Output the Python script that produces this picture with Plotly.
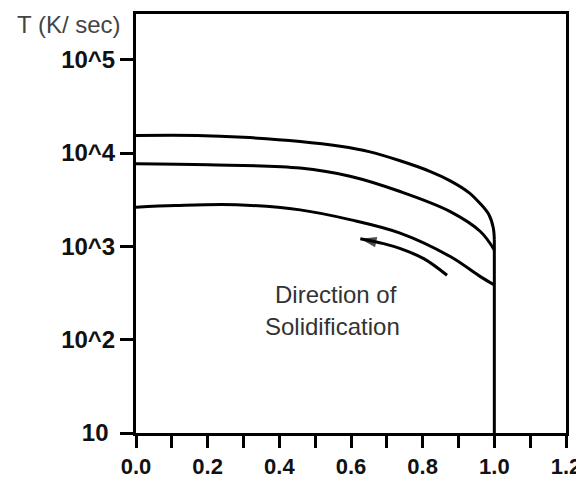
import plotly.graph_objects as go

# Data
top_x = [0.0, 0.17, 0.30, 0.458, 0.57, 0.65, 0.737, 0.82, 0.877, 0.93, 0.961, 0.985, 0.997, 1.0]
top_y = [15420, 15420, 14760, 13300, 11800, 10350, 8260, 6370, 5040, 3750, 2860, 2180, 1580, 1175]

mid_x = [0.0, 0.2, 0.458, 0.6, 0.737, 0.877, 0.961, 1.0]
mid_y = [7670, 7490, 6900, 5610, 3870, 2360, 1443, 916]

bot_x = [0.0, 0.11, 0.28, 0.458, 0.6, 0.737, 0.877, 0.961, 1.0]
bot_y = [2630, 2740, 2790, 2460, 1923, 1387, 778, 474, 386]

wall_x = [1.0, 1.0]
wall_y = [1175, 10]

arrow_x = [0.868, 0.803, 0.738, 0.691, 0.626]
arrow_y = [490, 738, 944, 1069, 1208]

x_ticks = [0.0, 0.1, 0.2, 0.3, 0.4, 0.5, 0.6, 0.7, 0.8, 0.9, 1.0, 1.1, 1.2]
x_ticktext = ["0.0", "", "0.2", "", "0.4", "", "0.6", "", "0.8", "", "1.0", "", "1.2"]
y_ticks = [10, 100, 1000, 10000, 100000]
y_ticktext = ["10\u00a0", "10^2", "10^3", "10^4", "10^5"]

FONT = "Liberation Sans, Arial, sans-serif"
LW = 3

fig = go.Figure()
for xs, ys in [(top_x, top_y), (mid_x, mid_y), (bot_x, bot_y)]:
    fig.add_trace(go.Scatter(x=xs, y=ys, mode="lines",
                             line=dict(color="black", width=LW, shape="spline", smoothing=1.0),
                             hoverinfo="skip", showlegend=False))
fig.add_trace(go.Scatter(x=wall_x, y=wall_y, mode="lines",
                         line=dict(color="black", width=LW),
                         hoverinfo="skip", showlegend=False))
fig.add_trace(go.Scatter(x=arrow_x, y=arrow_y, mode="lines+markers",
                         line=dict(color="black", width=LW, shape="spline"),
                         marker=dict(symbol=["circle"] * (len(arrow_x) - 1) + ["arrow"],
                                     size=[0] * (len(arrow_x) - 1) + [17],
                                     angleref="previous", color="black",
                                     line=dict(width=0)),
                         hoverinfo="skip", showlegend=False))

fig.add_annotation(x=0.559, y=2.48, xref="x", yref="y", text="Direction of",
                   showarrow=False, font=dict(family=FONT, size=24, color="#333"))
fig.add_annotation(x=0.548, y=2.137, xref="x", yref="y", text="Solidification",
                   showarrow=False, font=dict(family=FONT, size=24, color="#333"))
fig.add_annotation(x=-0.030, y=0.976, xref="paper", yref="paper", text="T (K/ sec)",
                   xanchor="right", yanchor="middle", showarrow=False,
                   font=dict(family=FONT, size=24, color="#444"))

fig.update_xaxes(range=[0, 1.2], tickvals=x_ticks, ticktext=x_ticktext,
                 ticks="outside", ticklen=12, tickwidth=LW, tickcolor="black",
                 showline=True, linewidth=LW, linecolor="black", mirror=True,
                 showgrid=False, zeroline=False, ticklabelstandoff=0, automargin=False,
                 tickfont=dict(family=FONT, size=22, color="#111", weight="bold"))
fig.update_yaxes(type="log", range=[1, 5.49], tickvals=y_ticks, ticktext=y_ticktext,
                 ticks="outside", ticklen=13, tickwidth=LW, tickcolor="black",
                 showline=True, linewidth=LW, linecolor="black", mirror=True,
                 showgrid=False, zeroline=False, automargin=False,
                 tickfont=dict(family=FONT, size=24, color="#111", weight="bold"))

# page body has an 8px default margin, so the figure is sized/offset to compensate
fig.update_layout(width=576, height=472, margin=dict(l=128, r=18, t=6, b=47),
                  paper_bgcolor="white", plot_bgcolor="white")

fig.write_html("out.html")
